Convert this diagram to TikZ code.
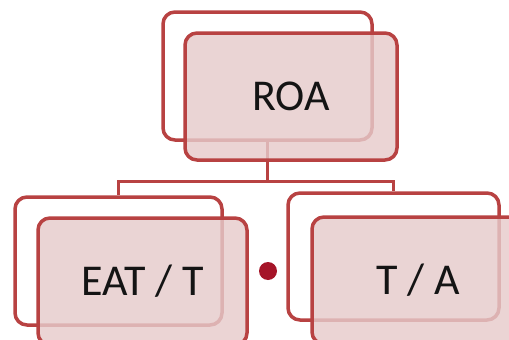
\documentclass[tikz,border=0pt]{standalone}
\usepackage{fontspec}
\setmainfont{Carlito}
\definecolor{boxline}{RGB}{184,66,66}
\definecolor{boxfill}{RGB}{230,203,203}
\definecolor{dotred}{RGB}{165,20,40}
\definecolor{txt}{RGB}{20,20,20}
\begin{document}
\begin{tikzpicture}[x=1pt,y=-1pt,
  backbox/.style={draw=boxline, line width=3.5pt, rounded corners=12pt, fill=white, inner sep=0pt},
  frontbox/.style={draw=boxline, line width=3.5pt, rounded corners=12pt, fill=boxfill, fill opacity=0.82, text opacity=1, inner sep=0pt, text=txt, font=\fontsize{44}{48}\selectfont},
  conn/.style={draw=boxline, line width=3pt}]
\useasboundingbox (0,0) rectangle (509,340);
% back boxes
\node[backbox, minimum width=209pt, minimum height=128pt] (topback) at (267.5,76) {};
\node[backbox, minimum width=207pt, minimum height=128pt] (blback) at (118.5,261) {};
\node[backbox, minimum width=211pt, minimum height=127pt] (brback) at (393.5,256.5) {};
% connectors
\coordinate (j) at (267.5,181);
\draw[conn] (topback.south) -- (j);
\draw[conn] (j) -| (blback.north);
\draw[conn] (j) -| (brback.north);
% front boxes
\node[frontbox, minimum width=212pt, minimum height=127pt] (topfront) at (291,96.5) {ROA};
\node[frontbox, minimum width=209pt, minimum height=127pt] (blfront) at (142.5,281.5) {EAT / T};
\node[frontbox, minimum width=212pt, minimum height=127pt] (brfront) at (418,280.5) {T / A};
% dot
\node[circle, fill=dotred, minimum size=18pt, inner sep=0pt] (dot) at (268,271) {};
\end{tikzpicture}
\end{document}
